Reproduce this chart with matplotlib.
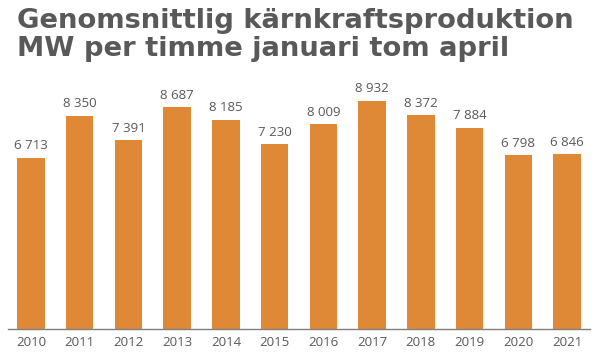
import matplotlib
matplotlib.use("Agg")
import matplotlib.pyplot as plt

years = ["2010", "2011", "2012", "2013", "2014", "2015", "2016", "2017", "2018", "2019", "2020", "2021"]
values = [6713, 8350, 7391, 8687, 8185, 7230, 8009, 8932, 8372, 7884, 6798, 6846]
title_lines = ["Genomsnittlig kärnkraftsproduktion", "MW per timme januari tom april"]

bar_color = "#DF8937"
text_grey = "#595959"

fig = plt.figure(figsize=(6.0, 3.53), dpi=100)
ax = fig.add_axes([8/600, 24/353, 582/600, 249/353])

x = list(range(len(years)))
bars = ax.bar(x, values, width=0.56, color=bar_color, zorder=2)

for xi, v in zip(x, values):
    label = f"{v:,}".replace(",", " ")
    ax.annotate(label, (xi, v), xytext=(0, 4), textcoords="offset points",
                ha="center", va="bottom", fontsize=9.5, color=text_grey,
                family="Open Sans")

ax.set_xlim(-0.47, len(years) - 1 + 0.47)
ax.set_ylim(0, 9750)
ax.set_xticks(x)
ax.set_xticklabels(years, fontsize=9.5, color=text_grey, family="Open Sans")
ax.tick_params(axis="x", length=0, pad=5)
ax.set_yticks([])
for s in ["top", "right", "left"]:
    ax.spines[s].set_visible(False)
ax.spines["bottom"].set_color("#7f7f7f")
ax.spines["bottom"].set_linewidth(1.0)

fig.text(17/600, 1 - 28/353, title_lines[0], fontsize=19.7, fontweight="bold",
         color=text_grey, family="DejaVu Sans", ha="left", va="baseline")
fig.text(17/600, 1 - 56/353, title_lines[1], fontsize=19.7, fontweight="bold",
         color=text_grey, family="DejaVu Sans", ha="left", va="baseline")

fig.savefig("out.png", dpi=100)
